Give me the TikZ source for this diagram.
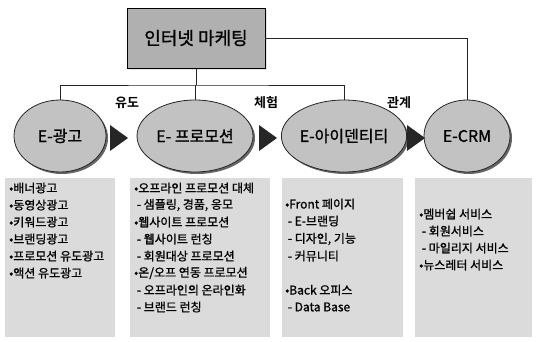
\documentclass[tikz,border=0pt]{standalone}
\usepackage{fontspec}
\newfontfamily\kr[FakeBold=1]{Noto Sans CJK KR}
\newfontfamily\krb{Noto Sans CJK KR Bold}
\usetikzlibrary{shapes.geometric,shadows}
\begin{document}
\begin{tikzpicture}[x=1pt,y=-1pt,
  topbox/.style={draw=black,line width=1pt,fill=gray!62,minimum width=138pt,minimum height=60pt,
    font=\kr\fontsize{18}{18}\selectfont,drop shadow={shadow xshift=1.5pt,shadow yshift=-1.5pt,fill=gray!40}},
  eball/.style={ellipse,draw=gray!30!black,line width=0.8pt,fill=gray!48,minimum height=72pt,inner sep=0pt,
    font=\kr\fontsize{16}{16}\selectfont,
    drop shadow={shadow xshift=2pt,shadow yshift=-2pt,fill=gray!80!black,opacity=1}},
  textbox/.style={fill=gray!28,minimum height=159pt,anchor=north west,inner sep=0pt},
  lab/.style={font=\krb\fontsize{13}{13}\selectfont},
  item/.style={anchor=west,font=\kr\fontsize{12}{12}\selectfont,inner sep=0pt},
  conn/.style={draw=black!85,line width=0.9pt},
  tri/.style={fill=black!85}]
\useasboundingbox (0,0) rectangle (537,341);
% top box
\node[topbox] (top) at (196,38) {인터넷 마케팅};
% ellipses
\node[eball,minimum width=92pt] (e1) at (60,136) {E-광고};
\node[eball,minimum width=116pt] (e2) at (195,136) {E- 프로모션};
\node[eball,minimum width=122pt] (e3) at (344,136) {E-아이덴티티};
\node[eball,minimum width=86pt] (e4) at (467,136) {E-CRM};
% connectors
\coordinate (bus) at (195,85);
\draw[conn] (top.south) -- (top.south |- bus);
\draw[conn] (e1.north) |- (bus) -| (e3.north);
\draw[conn] (e2.north) -- (e2.north |- bus);
\draw[conn] (top.east) -| (e4.north);
% arrows
\fill[tri] (110,125) -- (128,138) -- (110,151) -- cycle;
\fill[tri] (259,125) -- (277,138) -- (259,151) -- cycle;
\fill[tri] (407,125) -- (425,138) -- (407,151) -- cycle;
% labels
\node[lab] (l1) at (127,103) {유도};
\node[lab] (l2) at (266,103) {체험};
\node[lab] (l3) at (399,103) {관계};
% text boxes
\node[textbox,minimum width=110pt] (b1) at (5,178) {};
\node[textbox,minimum width=140pt] (b2) at (130,178) {};
\node[textbox,minimum width=121pt] (b3) at (282,178) {};
\node[textbox,minimum width=117pt] (b4) at (415,178) {};
% box 1
\node[item] (t11) at (9,188) {•배너광고};
\node[item] (t12) at (9,205) {•동영상광고};
\node[item] (t13) at (9,222) {•키워드광고};
\node[item] (t14) at (9,239) {•브랜딩광고};
\node[item] (t15) at (9,256) {•프로모션 유도광고};
\node[item] (t16) at (9,273) {•액션 유도광고};
% box 2
\node[item] (t21) at (134,188) {•오프라인 프로모션 대체};
\node[item] (t22) at (134,205) {\ - 샘플링, 경품, 응모};
\node[item] (t23) at (134,222) {•웹사이트 프로모션};
\node[item] (t24) at (134,239) {\ - 웹사이트 런칭};
\node[item] (t25) at (134,256) {\ - 회원대상 프로모션};
\node[item] (t26) at (134,273) {•온/오프 연동 프로모션};
\node[item] (t27) at (134,290) {\ - 오프라인의 온라인화};
\node[item] (t28) at (134,307) {\ - 브랜드 런칭};
% box 3
\node[item] (t31) at (285,204) {•Front 페이지};
\node[item] (t32) at (285,221) {\ - E-브랜딩};
\node[item] (t33) at (285,239) {\ - 디자인, 기능};
\node[item] (t34) at (285,256) {\ - 커뮤니티};
\node[item] (t35) at (285,290) {•Back 오피스};
\node[item] (t36) at (285,307) {\ - Data Base};
% box 4
\node[item] (t41) at (419,214) {•멤버쉽 서비스};
\node[item] (t42) at (419,231) {\ - 회원서비스};
\node[item] (t43) at (419,248) {\ - 마일리지 서비스};
\node[item] (t44) at (419,265) {•뉴스레터 서비스};
\end{tikzpicture}
\end{document}
